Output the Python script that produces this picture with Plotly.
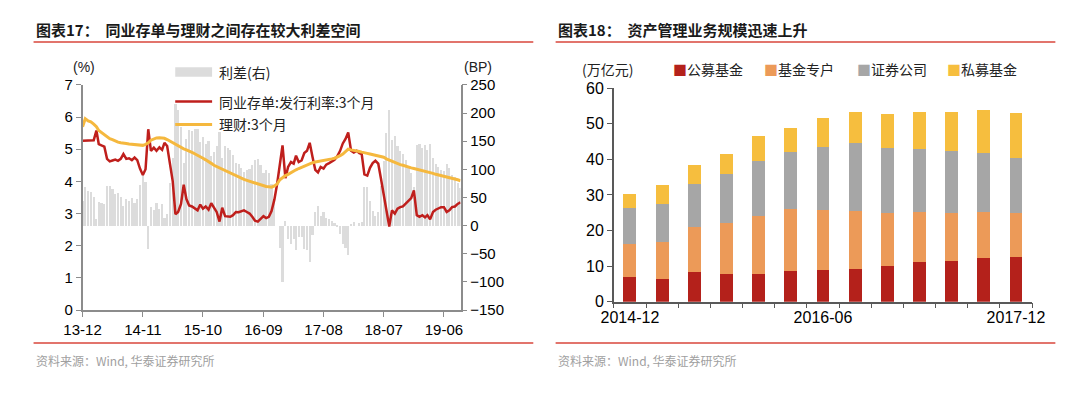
import plotly.graph_objects as go

# ---------------- data: left chart (semi-monthly, 2013-12-01 .. 2019-09-01) ----------------
cd_rate = [  # 同业存单:发行利率:3个月 (%)
    5.26, 5.26,
    5.26, 5.26, 5.28, 5.58, 5.16, 5.12, 5.08, 4.70, 4.62, 4.65, 4.68, 4.64,
    4.70, 4.85, 4.70, 4.72, 4.66, 4.74, 4.66, 4.40, 4.20, 4.38, 5.62, 4.95,
    5.05, 4.95, 5.06, 4.98, 5.20, 5.10, 4.50, 4.00, 2.98, 3.05, 3.30, 3.90,
    3.45, 3.25, 3.22, 3.15, 3.10, 3.28, 3.15, 3.22, 3.12, 3.32, 3.20, 3.05,
    2.75, 3.18, 2.92, 2.90, 2.90, 2.95, 3.05, 3.04, 3.08, 3.10, 3.05, 3.00,
    2.90, 2.78, 2.75, 2.82, 2.92, 2.86, 2.90, 3.08, 3.44, 3.92, 4.45, 5.12,
    4.10, 4.45, 4.60, 4.55, 4.80, 4.60, 4.65, 4.88, 4.95, 5.20, 4.75, 4.36,
    4.28, 4.45, 4.40, 4.52, 4.57, 4.62, 4.67, 4.78, 4.95, 5.18, 5.32, 5.52,
    4.95, 4.90, 4.95, 4.88, 4.85, 4.22, 4.18, 4.42, 4.57, 4.64, 4.55, 4.08,
    3.60, 3.05, 2.60, 3.10, 3.00, 3.15, 3.20, 3.22, 3.32, 3.42, 3.48, 3.72,
    2.95, 2.90, 2.95, 2.88, 2.95, 2.82, 3.05, 3.12, 3.15, 3.20, 3.20, 3.05,
    3.10, 3.20, 3.22, 3.30, 3.35,
]
wealth_rate = [  # 理财:3个月 (%)
    5.70, 5.95,
    5.88, 5.85, 5.78, 5.70, 5.58, 5.52, 5.46, 5.40, 5.33, 5.30, 5.25, 5.22,
    5.20, 5.20, 5.18, 5.16, 5.15, 5.14, 5.13, 5.12, 5.12, 5.15, 5.20, 5.28,
    5.32, 5.35, 5.36, 5.36, 5.34, 5.30, 5.25, 5.20, 5.14, 5.10, 5.06, 5.01,
    4.98, 4.95, 4.90, 4.86, 4.82, 4.77, 4.72, 4.67, 4.62, 4.56, 4.50, 4.46,
    4.42, 4.38, 4.33, 4.28, 4.24, 4.20, 4.16, 4.13, 4.10, 4.06, 4.03, 4.00,
    3.98, 3.95, 3.93, 3.90, 3.86, 3.84, 3.83, 3.82, 3.86, 3.92, 4.05, 4.12,
    4.18, 4.22, 4.28, 4.32, 4.36, 4.40, 4.44, 4.47, 4.52, 4.55, 4.58, 4.60,
    4.62, 4.62, 4.64, 4.66, 4.68, 4.70, 4.72, 4.75, 4.80, 4.85, 4.92, 5.00,
    4.98, 4.97, 4.95, 4.93, 4.91, 4.90, 4.87, 4.85, 4.83, 4.81, 4.79, 4.78,
    4.75, 4.70, 4.66, 4.62, 4.60, 4.56, 4.52, 4.50, 4.48, 4.45, 4.42, 4.40,
    4.38, 4.35, 4.33, 4.31, 4.29, 4.27, 4.25, 4.22, 4.20, 4.18, 4.17, 4.15,
    4.12, 4.10, 4.08, 4.05, 4.02,
]
left_tick_dates = ["2013-12-01", "2014-11-01", "2015-10-01", "2016-09-01",
                   "2017-08-01", "2018-07-01", "2019-06-01"]

# date grid: 1st and 16th of each month
dates = []
y, m = 2013, 12
while (y, m) <= (2019, 9):
    dates.append(f"{y}-{m:02d}-01")
    if (y, m) < (2019, 9):
        dates.append(f"{y}-{m:02d}-16")
    m += 1
    if m > 12:
        m, y = 1, y + 1

# spread (bp) = wealth - CD
spread_bp = [round((w - c) * 100, 1) for w, c in zip(wealth_rate, cd_rate)]

# ---------------- data: right chart ----------------
quarters = ["2014-12", "2015-03", "2015-06", "2015-09", "2015-12", "2016-03", "2016-06",
            "2016-09", "2016-12", "2017-03", "2017-06", "2017-09", "2017-12"]
public_funds = [7.0, 6.5, 8.3, 7.7, 7.7, 8.7, 9.0, 9.1, 9.9, 11.1, 11.4, 12.2, 12.6]
fund_special = [9.1, 10.2, 12.6, 14.3, 16.5, 17.4, 16.8, 16.3, 15.0, 14.2, 13.6, 13.1, 12.2]
securities = [10.1, 10.8, 12.2, 14.0, 15.3, 15.9, 17.8, 19.1, 18.3, 17.6, 17.3, 16.6, 15.6]
private_funds = [4.2, 5.3, 5.2, 5.6, 7.0, 6.7, 8.0, 8.8, 9.5, 10.5, 11.1, 12.1, 12.7]
right_labels = ["2014-12", "2016-06", "2017-12"]

W, H = 1080, 394
def px(x): return x / W
def py(yy): return 1 - yy / H

CJK = "Noto Sans CJK SC"
LAT = "Liberation Sans, Arial, sans-serif"

fig = go.Figure()

# left chart
fig.add_trace(go.Bar(x=dates, y=spread_bp, name="利差(右)", marker_color="#dcdcdc",
                     marker_line_width=0, width=12 * 86400000, xaxis="x", yaxis="y",
                     showlegend=False))
fig.add_trace(go.Scatter(x=dates, y=cd_rate, name="同业存单:发行利率:3个月", mode="lines",
                         line=dict(color="#bf1f1c", width=2.5), xaxis="x", yaxis="y2",
                         showlegend=False))
fig.add_trace(go.Scatter(x=dates, y=wealth_rate, name="理财:3个月", mode="lines",
                         line=dict(color="#f5b83e", width=3), xaxis="x", yaxis="y2",
                         showlegend=False))

# right chart
xi = list(range(len(quarters)))
for name, vals, col in [("公募基金", public_funds, "#b4211b"),
                        ("基金专户", fund_special, "#ec9a58"),
                        ("证券公司", securities, "#a6a6a6"),
                        ("私募基金", private_funds, "#f6be3e")]:
    fig.add_trace(go.Bar(x=xi, y=vals, name=name, marker_color=col, marker_line_width=0,
                         xaxis="x2", yaxis="y3", showlegend=False,
                         customdata=quarters))

axis_gray = "#8c8c8c"
tickfont_l = dict(family=LAT, size=15, color="#000")
tickfont_r = dict(family=LAT, size=16, color="#000")

fig.update_layout(
    width=W, height=H, margin=dict(l=0, r=0, t=0, b=0),
    paper_bgcolor="white", plot_bgcolor="rgba(0,0,0,0)",
    barmode="stack", bargap=0.6,
    xaxis=dict(type="date", domain=[px(65.5), px(455)], anchor="y",
               range=["2013-12-01", "2019-09-01"],
               tickvals=left_tick_dates, tickformat="%y-%m",
               ticks="outside", ticklen=5, tickcolor=axis_gray, tickwidth=1.2,
               showline=True, linecolor=axis_gray, linewidth=1.5,
               showgrid=False, zeroline=False, tickfont=tickfont_l),
    yaxis=dict(domain=[py(315.5), py(79.5)], anchor="x", side="right",
               range=[-150, 250], dtick=50, ticks="outside", ticklen=5,
               tickcolor=axis_gray, showline=True, linecolor=axis_gray, linewidth=1.5,
               showgrid=False, zeroline=False, tickfont=tickfont_l),
    yaxis2=dict(domain=[py(315.5), py(79.5)], anchor="x", overlaying="y", side="left",
                range=[0, 7], dtick=1, ticks="outside", ticklen=5,
                tickcolor=axis_gray, showline=True, linecolor=axis_gray, linewidth=1.5,
                showgrid=False, zeroline=False, tickfont=tickfont_l),
    xaxis2=dict(domain=[px(613), px(1044)], anchor="y3", range=[-0.5, 12.5],
                tickvals=[quarters.index(q) for q in right_labels], ticktext=right_labels,
                ticks="", showline=True, linecolor="#595959", linewidth=1.5,
                minor=dict(ticks="outside", tick0=-0.5, dtick=1, ticklen=5,
                           tickcolor="#595959", tickwidth=1.2),
                showgrid=False, zeroline=False, tickfont=tickfont_r),
    yaxis3=dict(domain=[py(306.7), py(83)], anchor="x2", range=[0, 60], dtick=10,
                ticks="outside", ticklen=5, tickcolor="#595959",
                showline=True, linecolor="#595959", linewidth=1.5,
                showgrid=False, zeroline=False, tickfont=tickfont_r),
)

shapes = []
red = "#d9463b"
for x0, x1 in [(15, 530), (553, 1068)]:
    shapes.append(dict(type="line", xref="paper", yref="paper", x0=px(x0), x1=px(x1),
                       y0=py(34.5), y1=py(34.5), line=dict(color=red, width=1.5)))
    shapes.append(dict(type="line", xref="paper", yref="paper", x0=px(x0), x1=px(x1),
                       y0=py(350), y1=py(350), line=dict(color=red, width=1.5)))
# left legend symbols
shapes.append(dict(type="rect", xref="paper", yref="paper", x0=px(161), x1=px(199),
                   y0=py(71), y1=py(61), fillcolor="#dcdcdc", line=dict(width=0)))
shapes.append(dict(type="line", xref="paper", yref="paper", x0=px(161), x1=px(199),
                   y0=py(97), y1=py(97), line=dict(color="#bf1f1c", width=2.5)))
shapes.append(dict(type="line", xref="paper", yref="paper", x0=px(161), x1=px(199),
                   y0=py(121), y1=py(121), line=dict(color="#f5b83e", width=3)))
fig.update_layout(shapes=shapes)

ann = []
def text(x, yy, s, size=15, color="#222", family=CJK, anchor="left"):
    ann.append(dict(xref="paper", yref="paper", x=px(x), y=py(yy), text=s,
                    showarrow=False, xanchor=anchor, yanchor="middle",
                    font=dict(family=family, size=size, color=color)))

text(15, 22, "<b>图表17：  同业存单与理财之间存在较大利差空间</b>", size=15, color="#1a1a1a")
text(553, 22, "<b>图表18：  资产管理业务规模迅速上升</b>", size=15, color="#1a1a1a")
text(15, 368, "资料来源：Wind, 华泰证券研究所", size=12, color="#a0a0a0")
text(553, 368, "资料来源：Wind, 华泰证券研究所", size=12, color="#a0a0a0")

text(67, 61, "(%)", size=14, color="#222", family=LAT, anchor="center")
text(490, 61, "(BP)", size=14, color="#222", family=LAT, anchor="right")
text(204, 66, "利差(右)", size=14)
text(204, 97, "同业存单:发行利率:3个月", size=14)
text(204, 121, "理财:3个月", size=14)

text(578, 63, "(万亿元)", size=14)
for xx, name, col in [(672, "公募基金", "#b4211b"), (766, "基金专户", "#ec9a58"),
                      (862, "证券公司", "#a6a6a6"), (954, "私募基金", "#f6be3e")]:
    text(xx, 63, f'<span style="color:{col}">■</span>{name}', size=14)

fig.update_layout(annotations=ann)
fig.write_html("out.html", config={"displayModeBar": False},
               post_script="document.body.style.margin='0';")
